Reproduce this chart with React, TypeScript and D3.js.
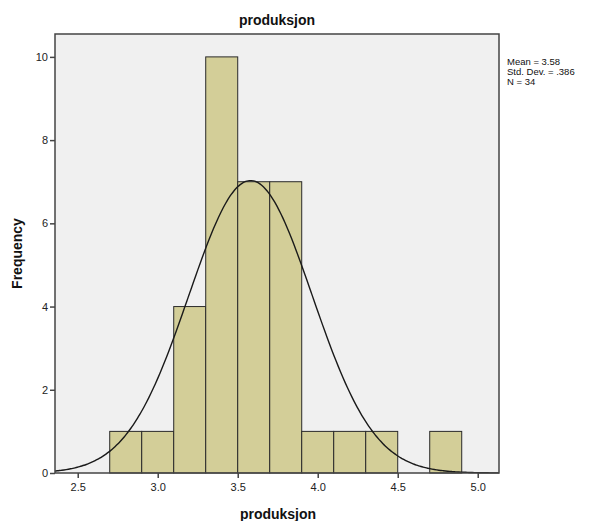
import { useEffect, useRef } from 'react';
import * as d3 from 'd3';

// bins of 0.2 starting at 2.7
const binStarts = [2.7, 2.9, 3.1, 3.3, 3.5, 3.7, 3.9, 4.1, 4.3, 4.5, 4.7];
const binCounts = [1, 1, 4, 10, 7, 7, 1, 1, 1, 0, 1];
const binWidth = 0.2;
const xTicks = [2.5, 3.0, 3.5, 4.0, 4.5, 5.0];
const yTicks = [0, 2, 4, 6, 8, 10];
const mean = 3.58;
const sd = 0.386;
const n = 34;
const statLines = ['Mean = 3.58', 'Std. Dev. = .386', 'N = 34'];

const App = () => {
  const svgRef = useRef<SVGSVGElement>(null);

  useEffect(() => {
    const width = 592;
    const height = 521;
    const svg = d3.select(svgRef.current);
    svg.selectAll('*').remove();
    svg.attr('width', width).attr('height', height);

    const left = 55, top = 34, right = 499, bottom = 473;
    const font = 'Liberation Sans, Arial, sans-serif';

    const x = d3.scaleLinear().domain([2.358, 5.133]).range([left, right]);
    const y = d3.scaleLinear().domain([0, 10.55]).range([bottom, top]);

    // plot background
    svg.append('rect')
      .attr('x', left).attr('y', top)
      .attr('width', right - left).attr('height', bottom - top)
      .attr('fill', '#f0f0f0');

    // bars
    svg.selectAll('.bar')
      .data(binStarts.map((s, i) => ({ s, c: binCounts[i] })).filter(d => d.c > 0))
      .enter()
      .append('rect')
      .attr('x', d => x(d.s))
      .attr('y', d => y(d.c))
      .attr('width', d => x(d.s + binWidth) - x(d.s))
      .attr('height', d => y(0) - y(d.c))
      .attr('fill', '#d3ce98')
      .attr('stroke', '#2a2a2a')
      .attr('stroke-width', 1);

    // normal curve
    const pdf = (v: number) => Math.exp(-0.5 * ((v - mean) / sd) ** 2) / (sd * Math.sqrt(2 * Math.PI));
    const xs = d3.range(200).map(i => 2.358 + (i / 199) * (5.133 - 2.358));
    const line = d3.line<number>()
      .x(v => x(v))
      .y(v => y(n * binWidth * pdf(v)))
      .curve(d3.curveMonotoneX);
    svg.append('path')
      .datum(xs)
      .attr('fill', 'none')
      .attr('stroke', '#1a1a1a')
      .attr('stroke-width', 1.4)
      .attr('d', line);

    // frame
    svg.append('rect')
      .attr('x', left).attr('y', top)
      .attr('width', right - left).attr('height', bottom - top)
      .attr('fill', 'none')
      .attr('stroke', '#444')
      .attr('stroke-width', 1.5);

    // axes
    const xAxis = svg.append('g')
      .attr('transform', `translate(0, ${bottom})`)
      .call(d3.axisBottom(x).tickValues(xTicks).tickFormat(d3.format('.1f')).tickSize(5).tickSizeOuter(0));
    xAxis.select('.domain').remove();
    xAxis.selectAll('line').attr('stroke', '#444').attr('stroke-width', 1.5);
    xAxis.selectAll('text').style('font-family', font).style('font-size', '11px').style('fill', '#222').attr('dy', '0.9em');

    const yAxis = svg.append('g')
      .attr('transform', `translate(${left}, 0)`)
      .call(d3.axisLeft(y).tickValues(yTicks).tickFormat(d3.format('d')).tickSize(5).tickSizeOuter(0));
    yAxis.select('.domain').remove();
    yAxis.selectAll('line').attr('stroke', '#444').attr('stroke-width', 1.5);
    yAxis.selectAll('text').style('font-family', font).style('font-size', '11px').style('fill', '#222').attr('x', -7);

    // title
    svg.append('text')
      .attr('x', (left + right) / 2).attr('y', 25)
      .attr('text-anchor', 'middle')
      .style('font-family', font).style('font-size', '14px').style('font-weight', 'bold')
      .style('fill', '#111')
      .text('produksjon');

    // x label
    svg.append('text')
      .attr('x', (left + right) / 2 + 1).attr('y', 519)
      .attr('text-anchor', 'middle')
      .style('font-family', font).style('font-size', '14px').style('font-weight', 'bold')
      .style('fill', '#111')
      .text('produksjon');

    // y label
    svg.append('text')
      .attr('transform', `translate(22, ${(top + bottom) / 2}) rotate(-90)`)
      .attr('text-anchor', 'middle')
      .style('font-family', font).style('font-size', '14px').style('font-weight', 'bold')
      .style('fill', '#111')
      .text('Frequency');

    // stats
    svg.append('g')
      .selectAll('text')
      .data(statLines)
      .enter()
      .append('text')
      .attr('x', 507)
      .attr('y', (d, i) => 65 + i * 10)
      .style('font-family', font).style('font-size', '9.5px')
      .style('fill', '#111')
      .text(d => d);
  }, []);

  return <svg ref={svgRef} style={{ position: 'absolute', left: 0, top: 0 }}></svg>;
};

export default App;
